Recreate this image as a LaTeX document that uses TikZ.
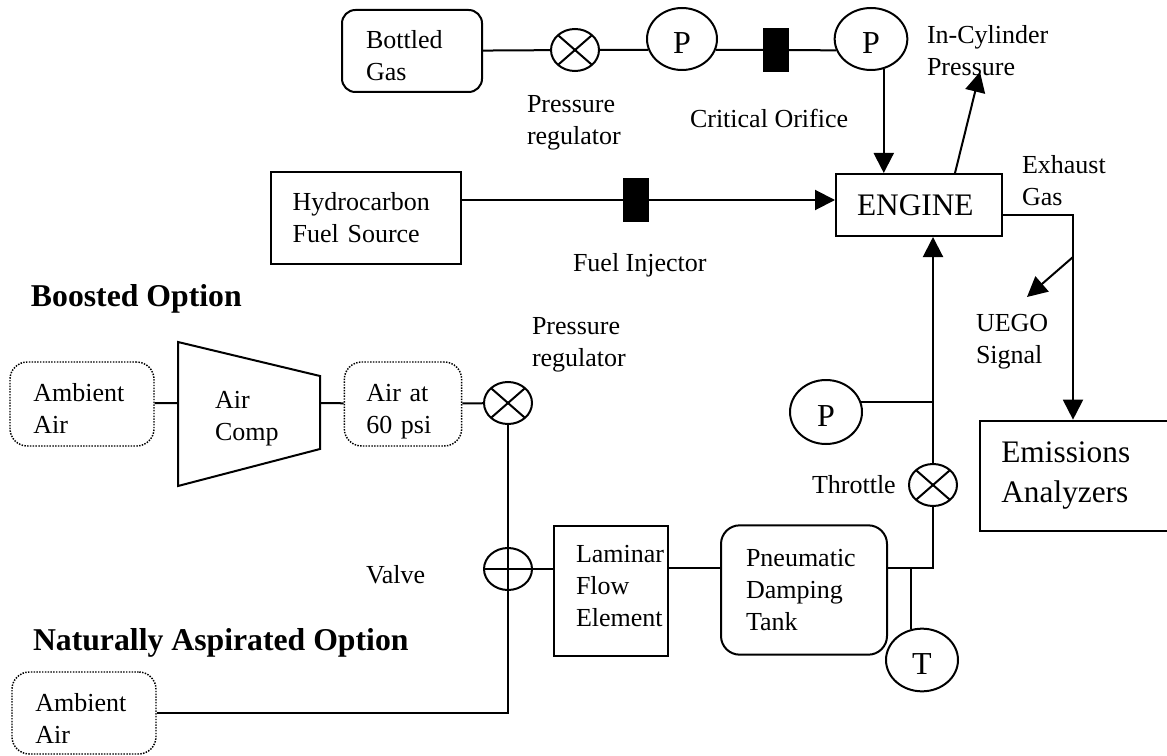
\documentclass[tikz,border=0pt]{standalone}
\usepackage{fontspec}
\setmainfont{Liberation Serif}
\usetikzlibrary{arrows.meta, shapes.geometric}

\newcommand{\txtdrop}[1]{\rule{0pt}{#1}}
\newcommand{\txtlift}[1]{\rule[-#1]{0pt}{0pt}}

\begin{document}
\begin{tikzpicture}[
    x=0.75pt, y=-0.75pt,
    font=\fontsize{19.5pt}{24pt}\selectfont,
    >={Triangle[length=15pt, width=15pt]},
    line width=1.5pt,
    block/.style={draw, rectangle, align=left, inner ysep=0pt},
    roundblock/.style={block, rounded corners=10pt},
    dotblock/.style={block, line width=1.1pt, densely dotted, rounded corners=13pt},
    gauge/.style={draw, ellipse, inner sep=0pt, text height=22pt, font=\fontsize{24pt}{24pt}\selectfont},
    valve/.style={draw, ellipse, minimum width=36pt, minimum height=31.5pt, inner sep=0pt},
    crossvalve/.style={valve, path picture={
        \draw (path picture bounding box.north west) -- (path picture bounding box.south east);
        \draw (path picture bounding box.south west) -- (path picture bounding box.north east);}},
    plusvalve/.style={valve, path picture={
        \draw (path picture bounding box.north) -- (path picture bounding box.south);
        \draw (path picture bounding box.west) -- (path picture bounding box.east);}},
    orifice/.style={draw, fill=black, rectangle, minimum width=18pt, minimum height=31pt, inner sep=0pt},
    lbl/.style={align=left, anchor=west, inner sep=0pt},
    title/.style={lbl, font=\fontsize{23.8pt}{24pt}\selectfont\bfseries},
    arrow/.style={->}
]
\useasboundingbox (0,0) rectangle (1167,756);

% Top line
\node[roundblock, minimum width=105pt, minimum height=61.5pt, text width=69pt] (gas) at (412,51) {\txtdrop{20.8pt}Bottled\\Gas};
\node[crossvalve] (reg1) at (575,50) {};
\node[gauge, minimum width=52.5pt, minimum height=46.5pt] (p1) at (682,39) {P};
\node[orifice] (orf) at (776,50) {};
\node[gauge, minimum width=54.5pt, minimum height=46.5pt] (p2) at (871,39) {P};
\node[block, minimum width=124.5pt, minimum height=46.5pt, text width=93pt, font=\fontsize{23.5pt}{24pt}\selectfont] (engine) at (919,205) {ENGINE};

% Fuel line
\node[block, minimum width=142pt, minimum height=69pt, text width=110pt] (fuel) at (366,218) {Hydrocarbon\\Fuel Source};
\node[orifice] (inj) at (636,200) {};

% Boosted air
\node[dotblock, minimum width=108pt, minimum height=63pt, text width=73pt] (amb1) at (82,404) {\txtdrop{20.8pt}Ambient\\Air};
\coordinate (comp in) at (178,403);
\coordinate (comp out) at (320,403);
\draw (178,342) -- (320,376) -- (320,449) -- (178,486) -- cycle;
\node[lbl] (comp) at (214,419) {Air\\Comp};
\node[dotblock, minimum width=88pt, minimum height=63pt, text width=55pt] (air) at (403,404) {\txtdrop{25pt}Air at\\60 psi};
\node[crossvalve] (reg2) at (508,403) {};

% Main air line
\node[plusvalve] (flow) at (508,569) {};
\node[block, minimum width=85.5pt, minimum height=97pt, text width=52.5pt] (lfe) at (611,591) {Laminar\\Flow\\Element\txtlift{7.5pt}};
\node[roundblock, minimum width=124.5pt, minimum height=97pt, text width=87pt, rounded corners=14pt] (tank) at (804,590) {Pneumatic\\Damping\\Tank};
\node[crossvalve] (thr) at (933,485) {};
\node[gauge, minimum width=54pt, minimum height=48pt] (p3) at (826,412) {P};
\node[gauge, minimum width=54pt, minimum height=47pt] (temp) at (922,660) {T};
\node[dotblock, minimum width=108pt, minimum height=61.5pt, text width=73pt] (amb2) at (84,713) {\txtdrop{22pt}Ambient\\Air};

% Analyzers
\node[block, minimum width=144pt, minimum height=83pt, text width=112pt, font=\fontsize{23.5pt}{30pt}\selectfont] (emis) at (1076,476) {Emissions\\Analyzers};

% Helper coordinates
\coordinate (incyl) at (980,72);
\coordinate (incyl base) at (955,173);
\coordinate (exh) at (1073,215);
\coordinate (tap) at (1073,257);
\coordinate (uego) at (1027,297);
\coordinate (join) at (933,568);
\coordinate (tjoin) at (911,568);

% Arrows
\draw (gas) -- (reg1);
\draw (reg1) -- (p1.198);
\draw (p1.342) -- (orf);
\draw (orf) -- (p2.198);
\draw[arrow] (p2.-67) -- (p2.-67 |- engine.north);
\draw[arrow] (incyl base) -- (incyl);
\draw (fuel.east |- inj) -- (inj);
\draw[arrow] (inj) -- (inj -| engine.west);
\draw[arrow] (exh -| engine.east) -- (exh) -- (exh |- emis.north);
\draw[arrow] (tap) -- (uego);
\draw (amb1) -- (comp in);
\draw (comp out) -- (air);
\draw (air) -- (reg2);
\draw (reg2) -- (flow);
\draw (amb2) -- (amb2 -| flow) -- (flow);
\draw (flow) -- (flow -| lfe.west);
\draw (lfe.east |- join) -- (tank.west |- join);
\draw (tank.east |- join) -- (join) -- (thr);
\draw (tjoin) -- (tjoin |- temp.110);
\draw (p3.16) -- (p3.16 -| thr);
\draw[arrow] (thr) -- (thr |- engine.south);

% Labels
\node[lbl] (lreg1) at (526,123) {Pressure\\regulator};
\node[lbl] (lorf) at (689,118) {Critical Orifice};
\node[lbl] (lcyl) at (926,51) {In-Cylinder\\Pressure};
\node[lbl] (lexh) at (1021,181) {Exhaust\\Gas};
\node[lbl] (luego) at (975,342) {UEGO\\Signal};
\node[lbl] (linj) at (572,265) {Fuel Injector};
\node[title] (boost) at (30,299) {Boosted Option};
\node[lbl] (lreg2) at (531,345) {Pressure\\regulator};
\node[lbl] (lvalve) at (365,575) {Valve};
\node[lbl] (lthr) at (811,485) {Throttle};
\node[title] (nat) at (32,643) {Naturally Aspirated Option};
\end{tikzpicture}
\end{document}
